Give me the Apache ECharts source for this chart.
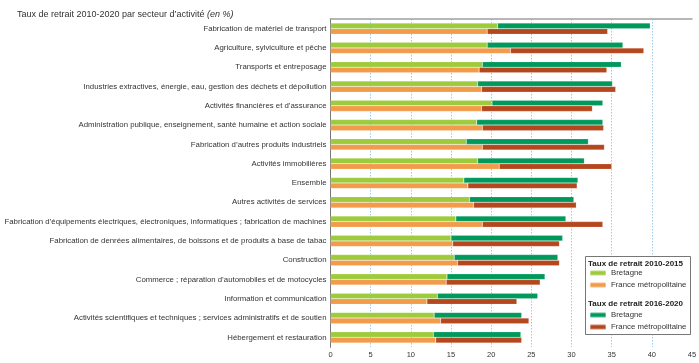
<!DOCTYPE html>
<html><head><meta charset="utf-8">
<script src="https://cdn.jsdelivr.net/npm/echarts@6/dist/echarts.min.js"></script>
<style>html,body{margin:0;padding:0;background:#fff}#c{width:699px;height:363px}</style>
</head><body><div id="c"></div>
<script>
const categories = [
  "Fabrication de matériel de transport",
  "Agriculture, sylviculture et pêche",
  "Transports et entreposage",
  "Industries extractives, énergie, eau, gestion des déchets et dépollution",
  "Activités financières et d’assurance",
  "Administration publique, enseignement, santé humaine et action sociale",
  "Fabrication d’autres produits industriels",
  "Activités immobilières",
  "Ensemble",
  "Autres activités de services",
  "Fabrication d’équipements électriques, électroniques, informatiques ; fabrication de machines",
  "Fabrication de denrées alimentaires, de boissons et de produits à base de tabac",
  "Construction",
  "Commerce ; réparation d’automobiles et de motocycles",
  "Information et communication",
  "Activités scientifiques et techniques ; services administratifs et de soutien",
  "Hébergement et restauration"
];
// Taux de retrait 2010-2015
const bretagne1015 = [20.8, 19.5, 18.9, 18.3, 20.1, 18.2, 16.9, 18.3, 16.6, 17.3, 15.6, 15.0, 15.4, 14.5, 13.3, 12.9, 12.8];
const france1015   = [19.5, 22.4, 18.5, 18.8, 18.8, 18.9, 18.9, 21.0, 17.1, 17.8, 18.9, 15.2, 15.8, 14.4, 12.0, 13.7, 13.1];
// Taux de retrait 2016-2020
const bretagne1620 = [19.0, 16.9, 17.3, 16.8, 13.8, 15.7, 15.2, 13.3, 14.2, 13.0, 13.7, 13.9, 12.9, 12.2, 12.5, 10.9, 10.9];
const france1620   = [15.0, 16.6, 15.9, 16.7, 13.8, 15.1, 15.2, 14.0, 13.6, 12.8, 15.0, 13.3, 12.7, 11.7, 11.2, 11.0, 10.7];
const xTicks = [0, 5, 10, 15, 20, 25, 30, 35, 40, 45];

const FONT = "'Liberation Sans', Arial, sans-serif";
const C = {bl: '#9dcb3c', fl: '#f29b4b', bd: '#00995c', fd: '#b4471e'};

const chart = echarts.init(document.getElementById('c'), null, {renderer: 'canvas'});
function bar(name, data, stack, color) {
  return {type: 'bar', name: name, stack: stack, data: data, barWidth: 5.6, barGap: '0%',
    itemStyle: {color: color, borderColor: 'rgba(255,255,255,0.35)', borderWidth: 0.5}};
}
const option = {
  animation: false,
  textStyle: {fontFamily: FONT},
  title: {text: "Taux de retrait 2010-2020 par secteur d’activité {i|(en %)}", left: 12, top: 5,
    textStyle: {fontFamily: FONT, fontSize: 9, fontWeight: 'normal', color: '#333',
      rich: {i: {fontStyle: 'italic', fontFamily: FONT, fontSize: 9, color: '#333'}}}},
  grid: {left: 330.5, right: 7, top: 19, bottom: 16, containLabel: false, outerBoundsMode: 'none'},
  xAxis: [{type: 'value', min: 0, max: 45, interval: 5,
      axisLine: {show: false}, axisTick: {show: false},
      axisLabel: {fontFamily: FONT, fontSize: 7.5, color: '#333', margin: 4,
        formatter: v => xTicks.includes(v) ? String(v) : ''},
      splitLine: {show: true, showMinLine: false, showMaxLine: false,
        lineStyle: {color: '#9cc8ea', type: [1.5, 1.5], width: 1}}},
    {type: 'value', position: 'top', min: 0, max: 45, interval: 5,
      axisLine: {show: true, lineStyle: {color: '#a0a0a0', width: 1.5}}, axisTick: {show: false},
      axisLabel: {show: false}, splitLine: {show: false}}],
  yAxis: [{type: 'category', data: categories, inverse: true,
      axisLine: {show: true, lineStyle: {color: '#555', width: 1}}, axisTick: {show: false},
      axisLabel: {fontFamily: FONT, fontSize: 7.8, color: '#333', margin: 4}},
    {type: 'category', data: categories, inverse: true, position: 'right',
      axisLine: {show: true, lineStyle: {color: '#777', width: 1}}, axisTick: {show: false},
      axisLabel: {show: false}}],
  legend: [
    {orient: 'vertical', left: 589, top: 269, itemWidth: 16, itemHeight: 5, itemGap: 4, z: 20, padding: 0,
      data: ['2010-2015|Bretagne', '2010-2015|France métropolitaine'],
      formatter: n => n.split('|')[1],
      textStyle: {fontFamily: FONT, fontSize: 7.8, color: '#333'}},
    {orient: 'vertical', left: 589, top: 311, itemWidth: 16, itemHeight: 5, itemGap: 4, z: 20, padding: 0,
      data: ['2016-2020|Bretagne', '2016-2020|France métropolitaine'],
      formatter: n => n.split('|')[1],
      textStyle: {fontFamily: FONT, fontSize: 7.8, color: '#333'}}
  ],
  graphic: [
    {type: 'rect', left: 585, top: 256, z: 10, shape: {width: 105, height: 78},
      style: {fill: '#fff', stroke: '#777', lineWidth: 1}},
    {type: 'text', left: 588, top: 260, z: 21,
      style: {text: 'Taux de retrait 2010-2015', font: "bold 8px " + FONT, fill: '#222'}},
    {type: 'text', left: 588, top: 300, z: 21,
      style: {text: 'Taux de retrait 2016-2020', font: "bold 8px " + FONT, fill: '#222'}}
  ],
  series: [
    bar('2010-2015|Bretagne', bretagne1015, 'b', C.bl),
    bar('2010-2015|France métropolitaine', france1015, 'f', C.fl),
    bar('2016-2020|Bretagne', bretagne1620, 'b', C.bd),
    bar('2016-2020|France métropolitaine', france1620, 'f', C.fd)
  ]
};
chart.setOption(option);
</script></body></html>
